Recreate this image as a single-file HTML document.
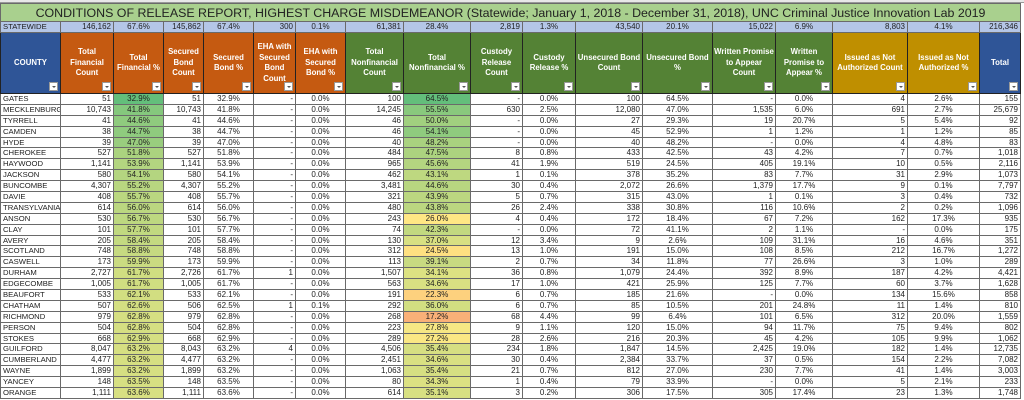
<!DOCTYPE html>
<html><head><meta charset="utf-8">
<style>
body{margin:0;width:1024px;height:400px;overflow:hidden;background:#fff;font-family:"Liberation Sans",sans-serif;}
.top{position:absolute;left:0;top:0;width:1024px;height:3px;background:#e8e8e8;border-bottom:1px solid #999;box-sizing:border-box}
table{position:absolute;left:0;top:3px;border-collapse:collapse;table-layout:fixed;width:1020px;font-size:8px;color:#222}
td{border:1px solid #6a6a6a;padding:0 2px;white-space:nowrap;overflow:hidden;text-align:right;height:9.9px;line-height:8px}
td:nth-child(odd){text-align:center}
td:first-child{text-align:left;padding-left:2px;font-size:7.7px}
tr.t td{background:#a9d08e;height:17px;font-size:12.4px;text-align:center;color:#222;line-height:14px}
tr.s td{background:#b4c6e7;height:10px}
tr.s td:first-child{text-align:left}
tr.h td{height:60px;color:#fff;font-weight:bold;font-size:7.8px;text-align:center;white-space:normal;line-height:10.5px;border-color:#222;position:relative;padding:0 1px}
.b{background:#2f5597}.o{background:#c55a11}.g{background:#548235}.y{background:#bf8f00}
.f{position:absolute;right:2px;bottom:2px;width:9px;height:9px;background:#fff;border:1px solid #999;box-sizing:border-box}
.f:after{content:"";position:absolute;left:2px;top:3px;border-left:2px solid transparent;border-right:2px solid transparent;border-top:2px solid #555}
</style></head><body>
<div class="top"></div>
<table>
<colgroup><col style="width:60px"><col style="width:53px"><col style="width:50px"><col style="width:40px"><col style="width:50px"><col style="width:42px"><col style="width:50px"><col style="width:58px"><col style="width:67px"><col style="width:52px"><col style="width:53px"><col style="width:67px"><col style="width:70px"><col style="width:63px"><col style="width:57px"><col style="width:75px"><col style="width:72px"><col style="width:41px"></colgroup>
<tr class="t"><td colspan="18" style="text-align:center">CONDITIONS OF RELEASE REPORT, HIGHEST CHARGE MISDEMEANOR (Statewide; January 1, 2018 - December 31, 2018), UNC Criminal Justice Innovation Lab 2019</td></tr>
<tr class="s"><td>STATEWIDE</td><td>146,162</td><td>67.6%</td><td>145,862</td><td>67.4%</td><td>300</td><td>0.1%</td><td>61,381</td><td>28.4%</td><td>2,819</td><td>1.3%</td><td>43,540</td><td>20.1%</td><td>15,022</td><td>6.9%</td><td>8,803</td><td>4.1%</td><td>216,346</td></tr>
<tr class="h"><td class="b" style="text-align:center;font-size:7.8px">COUNTY<span class="f"></span></td><td class="o">Total Financial Count<span class="f"></span></td><td class="o">Total Financial %<span class="f"></span></td><td class="o">Secured Bond Count<span class="f"></span></td><td class="o">Secured Bond %<span class="f"></span></td><td class="o">EHA with Secured Bond Count<span class="f"></span></td><td class="o">EHA with Secured Bond %<span class="f"></span></td><td class="g">Total Nonfinancial Count<span class="f"></span></td><td class="g">Total Nonfinancial %<span class="f"></span></td><td class="g">Custody Release Count<span class="f"></span></td><td class="g">Custody Release %<span class="f"></span></td><td class="g">Unsecured Bond Count<span class="f"></span></td><td class="g">Unsecured Bond %<span class="f"></span></td><td class="g">Written Promise to Appear Count<span class="f"></span></td><td class="g">Written Promise to Appear %<span class="f"></span></td><td class="y">Issued as Not Authorized Count<span class="f"></span></td><td class="y">Issued as Not Authorized %<span class="f"></span></td><td class="b">Total<span class="f"></span></td></tr>
<tr><td>GATES</td><td>51</td><td style="background:#63be7b">32.9%</td><td>51</td><td>32.9%</td><td>-</td><td>0.0%</td><td>100</td><td style="background:#63be7b">64.5%</td><td>-</td><td>0.0%</td><td>100</td><td>64.5%</td><td>-</td><td>0.0%</td><td>4</td><td>2.6%</td><td>155</td></tr>
<tr><td>MECKLENBURG</td><td>10,743</td><td style="background:#85c87d">41.8%</td><td>10,743</td><td>41.8%</td><td>-</td><td>0.0%</td><td>14,245</td><td style="background:#89c97d">55.5%</td><td>630</td><td>2.5%</td><td>12,080</td><td>47.0%</td><td>1,535</td><td>6.0%</td><td>691</td><td>2.7%</td><td>25,679</td></tr>
<tr><td>TYRRELL</td><td>41</td><td style="background:#8fcb7e">44.6%</td><td>41</td><td>44.6%</td><td>-</td><td>0.0%</td><td>46</td><td style="background:#a1d07f">50.0%</td><td>-</td><td>0.0%</td><td>27</td><td>29.3%</td><td>19</td><td>20.7%</td><td>5</td><td>5.4%</td><td>92</td></tr>
<tr><td>CAMDEN</td><td>38</td><td style="background:#8fcb7e">44.7%</td><td>38</td><td>44.7%</td><td>-</td><td>0.0%</td><td>46</td><td style="background:#8fcb7e">54.1%</td><td>-</td><td>0.0%</td><td>45</td><td>52.9%</td><td>1</td><td>1.2%</td><td>1</td><td>1.2%</td><td>85</td></tr>
<tr><td>HYDE</td><td>39</td><td style="background:#99cd7e">47.0%</td><td>39</td><td>47.0%</td><td>-</td><td>0.0%</td><td>40</td><td style="background:#a9d27f">48.2%</td><td>-</td><td>0.0%</td><td>40</td><td>48.2%</td><td>-</td><td>0.0%</td><td>4</td><td>4.8%</td><td>83</td></tr>
<tr><td>CHEROKEE</td><td>527</td><td style="background:#abd37f">51.8%</td><td>527</td><td>51.8%</td><td>-</td><td>0.0%</td><td>484</td><td style="background:#acd37f">47.5%</td><td>8</td><td>0.8%</td><td>433</td><td>42.5%</td><td>43</td><td>4.2%</td><td>7</td><td>0.7%</td><td>1,018</td></tr>
<tr><td>HAYWOOD</td><td>1,141</td><td style="background:#b3d580">53.9%</td><td>1,141</td><td>53.9%</td><td>-</td><td>0.0%</td><td>965</td><td style="background:#b4d580">45.6%</td><td>41</td><td>1.9%</td><td>519</td><td>24.5%</td><td>405</td><td>19.1%</td><td>10</td><td>0.5%</td><td>2,116</td></tr>
<tr><td>JACKSON</td><td>580</td><td style="background:#b4d580">54.1%</td><td>580</td><td>54.1%</td><td>-</td><td>0.0%</td><td>462</td><td style="background:#bed880">43.1%</td><td>1</td><td>0.1%</td><td>378</td><td>35.2%</td><td>83</td><td>7.7%</td><td>31</td><td>2.9%</td><td>1,073</td></tr>
<tr><td>BUNCOMBE</td><td>4,307</td><td style="background:#b8d680">55.2%</td><td>4,307</td><td>55.2%</td><td>-</td><td>0.0%</td><td>3,481</td><td style="background:#b8d680">44.6%</td><td>30</td><td>0.4%</td><td>2,072</td><td>26.6%</td><td>1,379</td><td>17.7%</td><td>9</td><td>0.1%</td><td>7,797</td></tr>
<tr><td>DAVIE</td><td>408</td><td style="background:#bad780">55.7%</td><td>408</td><td>55.7%</td><td>-</td><td>0.0%</td><td>321</td><td style="background:#bbd780">43.9%</td><td>5</td><td>0.7%</td><td>315</td><td>43.0%</td><td>1</td><td>0.1%</td><td>3</td><td>0.4%</td><td>732</td></tr>
<tr><td>TRANSYLVANIA</td><td>614</td><td style="background:#bbd780">56.0%</td><td>614</td><td>56.0%</td><td>-</td><td>0.0%</td><td>480</td><td style="background:#bbd780">43.8%</td><td>26</td><td>2.4%</td><td>338</td><td>30.8%</td><td>116</td><td>10.6%</td><td>2</td><td>0.2%</td><td>1,096</td></tr>
<tr><td>ANSON</td><td>530</td><td style="background:#bdd880">56.7%</td><td>530</td><td>56.7%</td><td>-</td><td>0.0%</td><td>243</td><td style="background:#ffe784">26.0%</td><td>4</td><td>0.4%</td><td>172</td><td>18.4%</td><td>67</td><td>7.2%</td><td>162</td><td>17.3%</td><td>935</td></tr>
<tr><td>CLAY</td><td>101</td><td style="background:#c1d980">57.7%</td><td>101</td><td>57.7%</td><td>-</td><td>0.0%</td><td>74</td><td style="background:#c2d980">42.3%</td><td>-</td><td>0.0%</td><td>72</td><td>41.1%</td><td>2</td><td>1.1%</td><td>-</td><td>0.0%</td><td>175</td></tr>
<tr><td>AVERY</td><td>205</td><td style="background:#c4da81">58.4%</td><td>205</td><td>58.4%</td><td>-</td><td>0.0%</td><td>130</td><td style="background:#d8e082">37.0%</td><td>12</td><td>3.4%</td><td>9</td><td>2.6%</td><td>109</td><td>31.1%</td><td>16</td><td>4.6%</td><td>351</td></tr>
<tr><td>SCOTLAND</td><td>748</td><td style="background:#c6da81">58.8%</td><td>748</td><td>58.8%</td><td>-</td><td>0.0%</td><td>312</td><td style="background:#fee081">24.5%</td><td>13</td><td>1.0%</td><td>191</td><td>15.0%</td><td>108</td><td>8.5%</td><td>212</td><td>16.7%</td><td>1,272</td></tr>
<tr><td>CASWELL</td><td>173</td><td style="background:#cadb81">59.9%</td><td>173</td><td>59.9%</td><td>-</td><td>0.0%</td><td>113</td><td style="background:#c8da81">39.1%</td><td>2</td><td>0.7%</td><td>34</td><td>11.8%</td><td>77</td><td>26.6%</td><td>3</td><td>1.0%</td><td>289</td></tr>
<tr><td>DURHAM</td><td>2,727</td><td style="background:#d0de81">61.7%</td><td>2,726</td><td>61.7%</td><td>1</td><td>0.0%</td><td>1,507</td><td style="background:#dde282">34.1%</td><td>36</td><td>0.8%</td><td>1,079</td><td>24.4%</td><td>392</td><td>8.9%</td><td>187</td><td>4.2%</td><td>4,421</td></tr>
<tr><td>EDGECOMBE</td><td>1,005</td><td style="background:#d0de81">61.7%</td><td>1,005</td><td>61.7%</td><td>-</td><td>0.0%</td><td>563</td><td style="background:#d9e082">34.6%</td><td>17</td><td>1.0%</td><td>421</td><td>25.9%</td><td>125</td><td>7.7%</td><td>60</td><td>3.7%</td><td>1,628</td></tr>
<tr><td>BEAUFORT</td><td>533</td><td style="background:#d2de81">62.1%</td><td>533</td><td>62.1%</td><td>-</td><td>0.0%</td><td>191</td><td style="background:#fdd17e">22.3%</td><td>6</td><td>0.7%</td><td>185</td><td>21.6%</td><td>-</td><td>0.0%</td><td>134</td><td>15.6%</td><td>858</td></tr>
<tr><td>CHATHAM</td><td>507</td><td style="background:#d4df82">62.6%</td><td>506</td><td>62.5%</td><td>1</td><td>0.1%</td><td>292</td><td style="background:#d2de81">36.0%</td><td>6</td><td>0.7%</td><td>85</td><td>10.5%</td><td>201</td><td>24.8%</td><td>11</td><td>1.4%</td><td>810</td></tr>
<tr><td>RICHMOND</td><td>979</td><td style="background:#d5df82">62.8%</td><td>979</td><td>62.8%</td><td>-</td><td>0.0%</td><td>268</td><td style="background:#f9b078">17.2%</td><td>68</td><td>4.4%</td><td>99</td><td>6.4%</td><td>101</td><td>6.5%</td><td>312</td><td>20.0%</td><td>1,559</td></tr>
<tr><td>PERSON</td><td>504</td><td style="background:#d5df82">62.8%</td><td>504</td><td>62.8%</td><td>-</td><td>0.0%</td><td>223</td><td style="background:#f6e784">27.8%</td><td>9</td><td>1.1%</td><td>120</td><td>15.0%</td><td>94</td><td>11.7%</td><td>75</td><td>9.4%</td><td>802</td></tr>
<tr><td>STOKES</td><td>668</td><td style="background:#d5df82">62.9%</td><td>668</td><td>62.9%</td><td>-</td><td>0.0%</td><td>289</td><td style="background:#fae784">27.2%</td><td>28</td><td>2.6%</td><td>216</td><td>20.3%</td><td>45</td><td>4.2%</td><td>105</td><td>9.9%</td><td>1,062</td></tr>
<tr><td>GUILFORD</td><td>8,047</td><td style="background:#d6df82">63.2%</td><td>8,043</td><td>63.2%</td><td>4</td><td>0.0%</td><td>4,506</td><td style="background:#d6df82">35.4%</td><td>234</td><td>1.8%</td><td>1,847</td><td>14.5%</td><td>2,425</td><td>19.0%</td><td>182</td><td>1.4%</td><td>12,735</td></tr>
<tr><td>CUMBERLAND</td><td>4,477</td><td style="background:#d6df82">63.2%</td><td>4,477</td><td>63.2%</td><td>-</td><td>0.0%</td><td>2,451</td><td style="background:#d9e082">34.6%</td><td>30</td><td>0.4%</td><td>2,384</td><td>33.7%</td><td>37</td><td>0.5%</td><td>154</td><td>2.2%</td><td>7,082</td></tr>
<tr><td>WAYNE</td><td>1,899</td><td style="background:#d6df82">63.2%</td><td>1,899</td><td>63.2%</td><td>-</td><td>0.0%</td><td>1,063</td><td style="background:#d6df82">35.4%</td><td>21</td><td>0.7%</td><td>812</td><td>27.0%</td><td>230</td><td>7.7%</td><td>41</td><td>1.4%</td><td>3,003</td></tr>
<tr><td>YANCEY</td><td>148</td><td style="background:#d7e082">63.5%</td><td>148</td><td>63.5%</td><td>-</td><td>0.0%</td><td>80</td><td style="background:#dce182">34.3%</td><td>1</td><td>0.4%</td><td>79</td><td>33.9%</td><td>-</td><td>0.0%</td><td>5</td><td>2.1%</td><td>233</td></tr>
<tr><td>ORANGE</td><td>1,111</td><td style="background:#d8e082">63.6%</td><td>1,111</td><td>63.6%</td><td>-</td><td>0.0%</td><td>614</td><td style="background:#d8e082">35.1%</td><td>3</td><td>0.2%</td><td>306</td><td>17.5%</td><td>305</td><td>17.4%</td><td>23</td><td>1.3%</td><td>1,748</td></tr>
</table>
</body></html>
